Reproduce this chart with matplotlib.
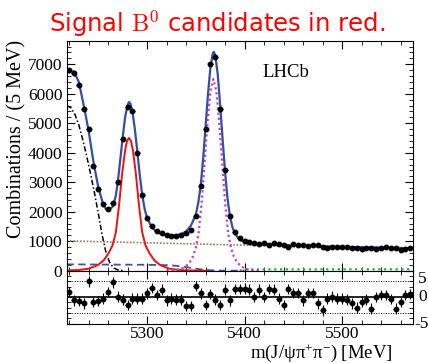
import numpy as np
import matplotlib.pyplot as plt
import matplotlib.transforms as mtransforms
from matplotlib.ticker import MultipleLocator, NullFormatter

plt.rcParams['mathtext.fontset'] = 'custom'
plt.rcParams['mathtext.rm'] = 'Liberation Serif'
plt.rcParams['mathtext.it'] = 'Liberation Serif:italic'
serif = 'Liberation Serif'

# 5 MeV bins, centres
mass = np.arange(5220, 5571, 5)
counts = [6800, 6700, 6300, 5480, 4790, 3550, 2760, 2250, 2100, 2290,
          3020, 4460, 5550, 5420, 3980, 2570, 1780, 1520, 1350, 1290,
          1210, 1180, 1180, 1210, 1270, 1380, 1850, 2880, 4790, 7000,
          7250, 5470, 3410, 1850, 1320, 1100, 1005, 980, 950, 900,
          935, 885, 925, 915, 860, 820, 905, 880, 875, 828,
          863, 858, 795, 753, 811, 818, 801, 796, 786, 763,
          739, 767, 776, 724, 782, 790, 786, 761, 708, 742, 776]
pulls = [1.0, -0.6, -0.7, -1.2, 3.0, -0.9, -0.7, -0.3, 1.0, 2.8,
         0.1, -0.5, -1.5, -0.3, -0.3, -0.3, 0.7, 1.7, 0.4, 1.4,
         -0.6, -0.3, -0.5, -0.5, -1.7, -1.7, 2.1, 0.7, -1.5, 0.6,
         -0.5, -1.5, 1.4, -0.6, 1.5, 1.5, 1.6, 1.4, 0.0, 1.4,
         0.0, 1.5, 1.4, -0.3, -1.5, 1.5, 0.8, 0.8, -0.6, 0.8,
         0.8, -1.2, -2.5, -0.3, 0.1, -0.3, -0.3, -0.5, -1.2, -2.0,
         -0.9, -0.5, -2.2, 0.0, 0.4, 0.4, -0.4, -2.2, -0.9, 0.4, 0.6]

# fit components
total_m = [5217.5, 5220, 5225, 5230, 5235, 5240, 5245, 5250, 5255, 5258,
           5261, 5265, 5268, 5270, 5272.5, 5275, 5277.5, 5280, 5281.5, 5283,
           5285, 5287.5, 5290, 5292.5, 5295, 5297.5, 5300, 5305, 5310, 5315,
           5320, 5325, 5330, 5335, 5340, 5345, 5350, 5352.5, 5355, 5357.5,
           5360, 5362.5, 5365, 5367.5, 5368.5, 5370, 5372.5, 5375, 5377.5, 5380,
           5382.5, 5385, 5387.5, 5390, 5395, 5400, 5405, 5410, 5420, 5440,
           5460, 5480, 5500, 5520, 5540, 5560, 5572.5]
total_v = [6740, 6750, 6760, 6400, 5620, 4760, 3700, 2830, 2250, 2080,
           2060, 2180, 2550, 3000, 3750, 4520, 5200, 5620, 5720, 5660,
           5400, 4800, 4050, 3250, 2580, 2100, 1790, 1460, 1320, 1245,
           1210, 1195, 1200, 1240, 1330, 1530, 1900, 2300, 2880, 3800,
           4880, 6000, 6900, 7380, 7420, 7300, 6650, 5600, 4450, 3350,
           2450, 1850, 1480, 1260, 1050, 965, 930, 910, 892, 870,
           850, 830, 810, 795, 782, 769, 762]

b0_m = [5217.5, 5230.5, 5240.5, 5249.5, 5255.5, 5260.5, 5264.5, 5268, 5271.5, 5274.5,
        5277.5, 5279.5, 5281.5, 5283.5, 5285.5, 5288.5, 5291.5, 5295, 5298.5, 5302.5,
        5307.5, 5313.5, 5322.5, 5332.5, 5345.5, 5361.5]
b0_v = [8, 25, 70, 190, 350, 590, 850, 1300, 2290, 3300,
        4090, 4400, 4500, 4400, 4090, 3300, 2290, 1300, 850, 590,
        350, 190, 70, 25, 8, 0]

bs_m = [5320, 5328, 5335, 5340, 5344, 5347, 5350, 5353, 5356, 5359,
        5362, 5365, 5368, 5371, 5374, 5377, 5380, 5383, 5386, 5389,
        5392, 5396, 5401, 5408, 5416]
bs_v = [0, 10, 60, 160, 300, 480, 780, 1300, 2320, 3660,
        5000, 6100, 6500, 6100, 5000, 3660, 2320, 1300, 780, 480,
        300, 160, 60, 10, 0]

refl_m = [5217.5, 5222, 5226, 5230, 5234, 5238, 5242, 5246, 5250, 5254,
          5258, 5262, 5266, 5270, 5276]
refl_v = [5600, 5520, 5300, 4950, 4450, 3900, 3300, 2650, 1950, 1200,
          600, 250, 90, 25, 0]

comb_m = [5217.5, 5572.5]
comb_v = [1010, 730]

dash_m = [5217.5, 5300, 5315, 5325, 5335, 5345, 5355, 5365, 5375, 5385, 5400]
dash_v = [215, 200, 192, 180, 150, 95, 45, 15, 3, 0, 0]

green_m = [5395, 5400, 5572.5]
green_v = [0, 45, 50]

fig = plt.figure(figsize=(4.28, 3.63), dpi=100)
ax = fig.add_axes([0.1556, 0.2543, 0.8089, 0.6336])
axr = fig.add_axes([0.1556, 0.1088, 0.8089, 0.1455])

ax.plot(comb_m, comb_v, color='#9c7658', lw=1.2, ls=(0, (1, 1)))
ax.plot(green_m, green_v, color='#22b830', lw=1.6, ls=(0, (1, 1.6)))
ax.plot(dash_m, dash_v, color='#4050a8', lw=1.3, ls=(0, (4, 2.5)))
ax.plot(refl_m, refl_v, color='black', lw=1.1, ls=(0, (3.5, 1.5, 1, 1.5)))
ax.plot(b0_m, b0_v, color='#f01010', lw=1.4)
ax.plot(bs_m, bs_v, color='#c840b8', lw=1.6, ls=(0, (1, 1.3)))
ax.plot(total_m, total_v, color='#3050a8', lw=1.6)
ax.errorbar(mass, counts, yerr=np.sqrt(counts), xerr=2.5, fmt='o', color='black',
            ms=3.2, elinewidth=0.8, capsize=0, zorder=5)

ax.set_xlim(5217.5, 5572.5)
ax.set_ylim(0, 7800)
ax.set_yticks(range(0, 8000, 1000))
ax.yaxis.set_minor_locator(MultipleLocator(200))
ax.xaxis.set_major_locator(MultipleLocator(100))
ax.xaxis.set_minor_locator(MultipleLocator(20))
ax.xaxis.set_major_formatter(NullFormatter())
ax.tick_params(which='both', direction='in', top=True, right=True, labelsize=12.5, pad=3)
ax.tick_params(which='major', length=6)
ax.tick_params(which='minor', length=3)
for lab in ax.get_yticklabels():
    lab.set_family(serif)

ax.text(0.567, 0.86, 'LHCb', transform=ax.transAxes, family=serif, fontsize=13.5,
        va='center', ha='left')

# pulls
axr.axhline(0, color='black', lw=1.2)
axr.axhline(3, color='black', lw=0.7, ls=(0, (1, 1.5)))
axr.axhline(-3, color='black', lw=0.7, ls=(0, (1, 1.5)))
axr.errorbar(mass, pulls, yerr=1, xerr=2.5, fmt='o', color='black',
             ms=3.2, elinewidth=0.8, capsize=0, zorder=5)
axr.set_xlim(5217.5, 5572.5)
axr.set_ylim(-5, 5)
axr.xaxis.set_major_locator(MultipleLocator(100))
axr.xaxis.set_minor_locator(MultipleLocator(20))
axr.yaxis.set_major_locator(MultipleLocator(5))
axr.yaxis.set_minor_locator(MultipleLocator(1))
axr.yaxis.set_major_formatter(NullFormatter())
axr.tick_params(which='both', direction='in', top=True, right=True, labelsize=12.5, pad=2)
axr.tick_params(which='major', length=6)
axr.tick_params(which='minor', length=3)
for lab in axr.get_xticklabels():
    lab.set_family(serif)

trans = mtransforms.blended_transform_factory(axr.transAxes, axr.transData)
axr.text(1.015, 5, '5', transform=trans, family=serif, fontsize=12.5, va='top', ha='left')
axr.text(1.015, 0, '0', transform=trans, family=serif, fontsize=12.5, va='center', ha='left')
axr.text(1.005, -5, '-5', transform=trans, family=serif, fontsize=12.5, va='center', ha='left')

fig.text(17 / 428, 1 - 40 / 363, 'Combinations / (5 MeV)', rotation=90, family=serif,
         fontsize=14.5, ha='center', va='top')
fig.text(393 / 428, 1 - 358 / 363, r'm(J/$\mathrm{ψπ^{+}π^{-}}$) [MeV]', family=serif,
         fontsize=13.5, ha='right', va='baseline')
fig.text(0.507, 1 - 31.5 / 363, r'Signal $\mathrm{B}^0$ candidates in red.', color='red',
         fontsize=17.5, ha='center', va='baseline', math_fontfamily='cm')

fig.savefig('out.png', dpi=100)
